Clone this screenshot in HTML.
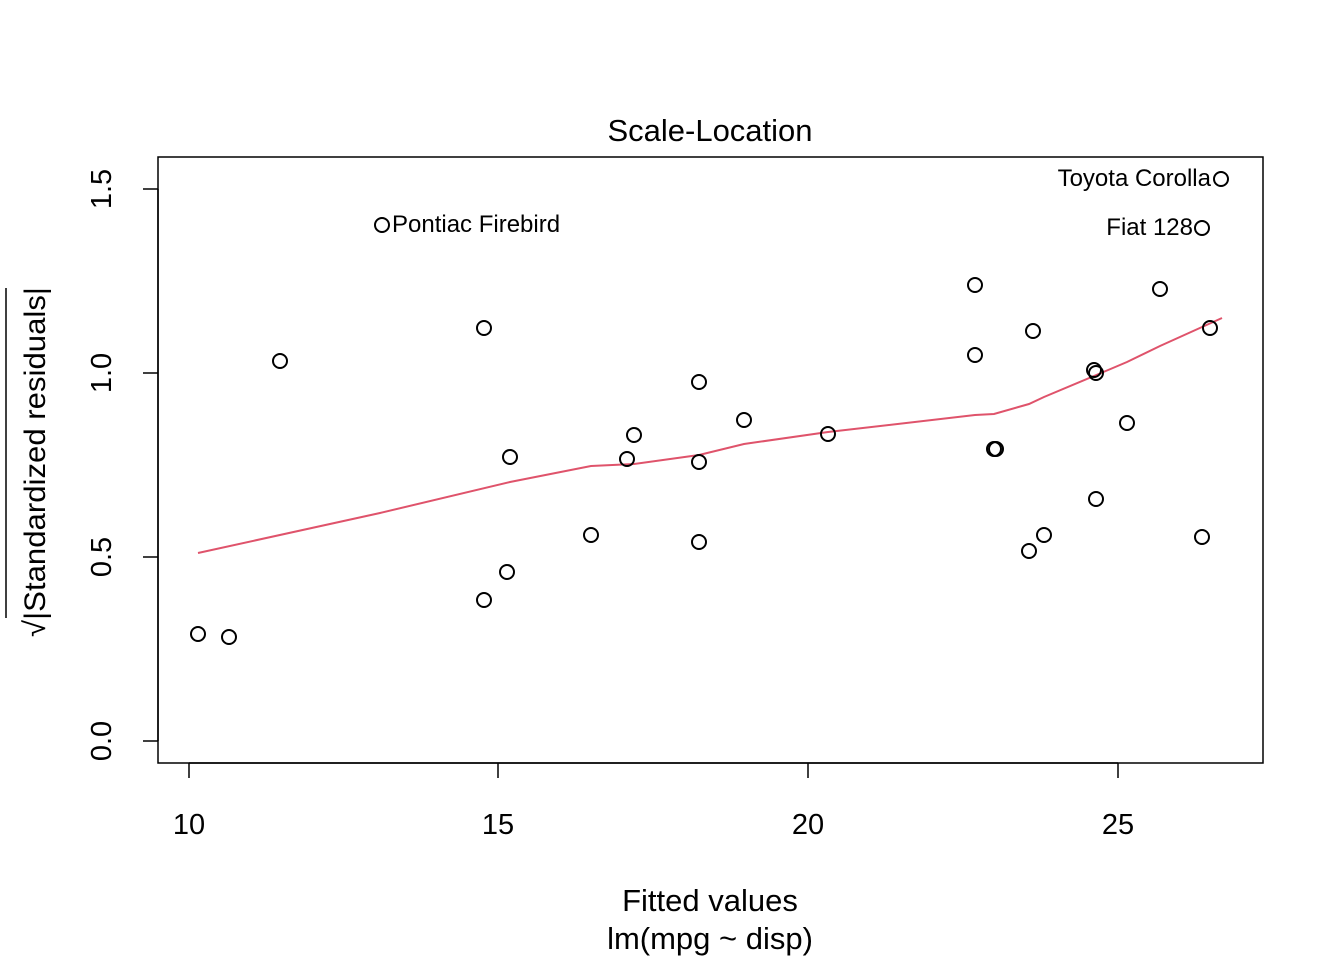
<!DOCTYPE html>
<html><head><style>body{margin:0;background:#fff}</style></head><body>
<svg width="1344" height="960" xmlns="http://www.w3.org/2000/svg" font-family="Liberation Sans, Arial, sans-serif">
<rect width="1344" height="960" fill="#fff"/>
<rect x="158" y="157" width="1105" height="606" fill="none" stroke="#000" stroke-width="1.5"/>
<g stroke="#000" stroke-width="1.5">
<line x1="189" y1="763" x2="1118" y2="763"/>
<line x1="189" y1="763" x2="189" y2="778"/><line x1="498" y1="763" x2="498" y2="778"/>
<line x1="808" y1="763" x2="808" y2="778"/><line x1="1118" y1="763" x2="1118" y2="778"/>
<line x1="158" y1="189" x2="158" y2="741"/>
<line x1="143" y1="741" x2="158" y2="741"/><line x1="143" y1="557" x2="158" y2="557"/>
<line x1="143" y1="373" x2="158" y2="373"/><line x1="143" y1="189" x2="158" y2="189"/>
</g>
<g font-size="29" text-anchor="middle">
<text x="189" y="834">10</text><text x="498" y="834">15</text><text x="808" y="834">20</text><text x="1118" y="834">25</text>
<text transform="translate(111,741) rotate(-90)">0.0</text>
<text transform="translate(111,557) rotate(-90)">0.5</text>
<text transform="translate(111,373) rotate(-90)">1.0</text>
<text transform="translate(111,189) rotate(-90)">1.5</text>
<text x="710" y="911" font-size="31">Fitted values</text>
<text x="710" y="949" font-size="31">lm(mpg ~ disp)</text>
<text x="710" y="141" font-size="31">Scale-Location</text>
<text transform="translate(45,462) rotate(-90)" font-size="30" textLength="350" lengthAdjust="spacingAndGlyphs">√|Standardized residuals|</text>
</g>
<line x1="6" y1="288" x2="6" y2="618" stroke="#000" stroke-width="1.5"/>
<polyline fill="none" stroke="#DF536B" stroke-width="2" points="198,553 380,513 510,482 591,466 634,464 699,455 744,444 828,432 975,415 994,414 1029,404 1044,397 1094,376 1127,362 1160,346 1222,318"/>
<g fill="none" stroke="#000" stroke-width="2">
<circle cx="198" cy="634" r="7"/><circle cx="229" cy="637" r="7"/><circle cx="280" cy="361" r="7"/><circle cx="382" cy="225" r="7"/>
<circle cx="484" cy="328" r="7"/><circle cx="484" cy="600" r="7"/><circle cx="507" cy="572" r="7"/><circle cx="510" cy="457" r="7"/>
<circle cx="591" cy="535" r="7"/><circle cx="627" cy="459" r="7"/><circle cx="634" cy="435" r="7"/><circle cx="699" cy="382" r="7"/>
<circle cx="699" cy="462" r="7"/><circle cx="699" cy="542" r="7"/><circle cx="744" cy="420" r="7"/><circle cx="828" cy="434" r="7"/>
<circle cx="975" cy="285" r="7"/><circle cx="975" cy="355" r="7"/><circle cx="994" cy="449" r="7"/><circle cx="996" cy="449" r="7"/>
<circle cx="1029" cy="551" r="7"/><circle cx="1033" cy="331" r="7"/><circle cx="1044" cy="535" r="7"/><circle cx="1094" cy="370" r="7"/>
<circle cx="1096" cy="373" r="7"/><circle cx="1096" cy="499" r="7"/><circle cx="1127" cy="423" r="7"/><circle cx="1160" cy="289" r="7"/>
<circle cx="1202" cy="228" r="7"/><circle cx="1202" cy="537" r="7"/><circle cx="1210" cy="328" r="7"/><circle cx="1221" cy="179" r="7"/>
</g>
<g font-size="24">
<text x="392" y="232">Pontiac Firebird</text>
<text x="1211" y="186" text-anchor="end">Toyota Corolla</text>
<text x="1193" y="235" text-anchor="end">Fiat 128</text>
</g>
</svg>
</body></html>
